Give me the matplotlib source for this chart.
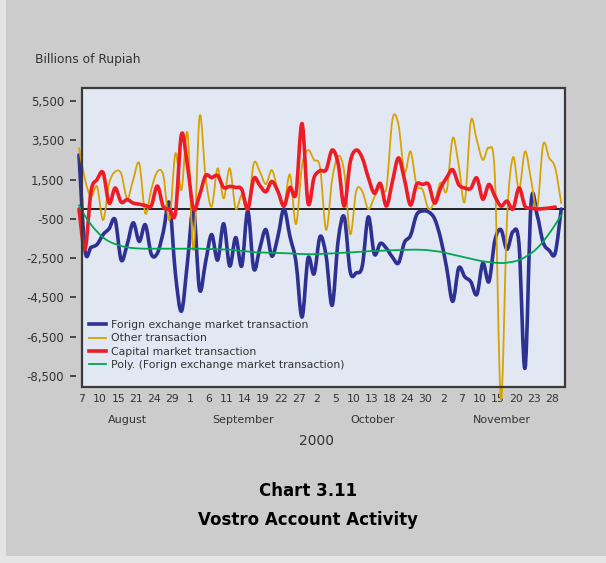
import matplotlib
matplotlib.use('Agg')
import matplotlib.pyplot as plt
from matplotlib.patches import Rectangle, PathPatch
from matplotlib.path import Path
from matplotlib.lines import Line2D
from matplotlib.ticker import FuncFormatter
import matplotlib.transforms as mtransforms
import numpy as np

# day labels under the axis (every third business day), Aug 7 - Nov 30 2000
day_labels = ['7', '10', '15', '21', '24', '29', '1', '6', '11', '14', '19', '22', '27',
              '2', '5', '10', '13', '18', '24', '30', '2', '7', '10', '15', '20', '23', '28']
months = ['August', 'September', 'October', 'November']

# billions of rupiah, one value per business day
forex = [2750, -2100, -1950, -1800, -1300, -1000, -550, -2600, -1800, -700,
         -1650, -800, -2300, -2250, -1150, 300, -3300, -5200, -2700, 0,
         -4100, -2700, -1300, -2600, -750, -2900, -1450, -2900, -100, -3050,
         -2000, -1050, -2400, -1400, 0, -1400, -2700, -5500, -2500, -3300,
         -1400, -2400, -4900, -1600, -400, -3200, -3250, -2900, -400, -2300,
         -1750, -2000, -2450, -2750, -1700, -1350, -300, -100, -150, -500,
         -1500, -3000, -4700, -3000, -3450, -3700, -4350, -2750, -3700, -1600,
         -1050, -2050, -1150, -1800, -8100, 300, -300, -1700, -2100, -2250,
         0]
other = [3100, 1500, 630, 1140, -560, 1300, 1900, 1800, 540, 1500,
         2320, -220, 1000, 1900, 1700, -560, 2830, 970, 3880, -2090,
         4700, 1650, 120, 2070, 540, 2070, 30, 710, 0, 2320,
         1900, 1270, 1975, 950, 200, 1750, -770, 2200, 3000, 2500,
         2100, -1060, 1500, 2700, 1900, -1280, 930, 900, 0, 600,
         1200, 1070, 4550, 4300, 1870, 2930, 1240, 980, 0, 390,
         1350, 930, 3610, 2240, 380, 4470, 3500, 2500, 3120, 1650,
         -9700, -560, 2630, 970, 2930, 1500, 0, 3270, 2600, 2100,
         300]
capital = [0, -2050, 900, 1500, 1850, 300, 1070, 350, 480, 300,
           250, 180, 170, 1170, 100, 0, -200, 3800, 2200, 0,
           700, 1700, 1600, 1700, 1100, 1150, 1100, 1000, 0, 1550,
           1200, 880, 1400, 900, 150, 1100, 800, 4350, 300, 1600,
           1950, 2000, 3000, 2300, 150, 2400, 3000, 2600, 1600, 800,
           1300, 150, 1400, 2600, 1500, 200, 1250, 1250, 1250, 300,
           1070, 1600, 2000, 1240, 1070, 1050, 1580, 500, 1250, 650,
           150, 400, 0, 1070, 140, 50, 0, 20, 50, 100]
poly = [200, -350, -800, -1150, -1450, -1650, -1780, -1880, -1950, -1990,
        -2010, -2020, -2020, -2020, -2020, -2020, -2020, -2020, -2020, -2020,
        -2020, -2030, -2040, -2050, -2060, -2070, -2100, -2130, -2160, -2200,
        -2210, -2220, -2230, -2240, -2250, -2260, -2280, -2290, -2300, -2300,
        -2290, -2270, -2260, -2240, -2220, -2210, -2190, -2170, -2150, -2140,
        -2130, -2110, -2100, -2090, -2080, -2070, -2070, -2080, -2100, -2140,
        -2180, -2250, -2320, -2390, -2460, -2530, -2600, -2660, -2700, -2730,
        -2750, -2730, -2680, -2600, -2450, -2250, -2000, -1650, -1250, -800,
        -300]

series = [
    (forex, 'Forign exchange market transaction', '#2e3192', 2.6),
    (other, 'Other transaction', '#d8a200', 1.3),
    (capital, 'Capital market transaction', '#ee1c25', 2.6),
    (poly, 'Poly. (Forign exchange market transaction)', '#00a651', 1.3),
]


def smooth_path(vals):
    # spreadsheet-style "smoothed line": bezier segments through every point
    pts = np.column_stack([np.arange(len(vals)), vals]).astype(float)
    n = len(pts)
    verts = [pts[0]]
    codes = [Path.MOVETO]
    for i in range(n - 1):
        p0 = pts[max(i - 1, 0)]
        p1 = pts[i]
        p2 = pts[i + 1]
        p3 = pts[min(i + 2, n - 1)]
        verts += [p1 + (p2 - p0) / 6, p2 - (p3 - p1) / 6, p2]
        codes += [Path.CURVE4] * 3
    return Path(verts, codes)


fig = plt.figure(figsize=(6.06, 5.63), dpi=100, facecolor='#e4e4e4')
fig.add_artist(Rectangle((6 / 606, 7 / 563), 600 / 606, 556 / 563,
                         transform=fig.transFigure, facecolor='#cccccc',
                         edgecolor='none', zorder=-10))

ax = fig.add_axes([82 / 606, 1 - 387 / 563, 483 / 606, 299 / 563])
ax.set_facecolor('#e1e8f4')

handles = []
for vals, name, col, lw in series:
    ax.add_patch(PathPatch(smooth_path(vals), fill=False, edgecolor=col, lw=lw,
                           capstyle='round', joinstyle='round', clip_on=False,
                           zorder=3))
    handles.append(Line2D([], [], color=col, lw=lw, label=name))

ax.axhline(0, color='black', lw=1.2, zorder=2)

ax.set_xlim(0.66, 80.63)
ax.set_ylim(-9060, 6160)

# frame drawn by hand so the y ticks can sit a little away from it
for s in ax.spines.values():
    s.set_visible(False)
ax.spines['left'].set_position(('outward', 4))
ax.add_patch(Rectangle((0, 0), 1, 1, transform=ax.transAxes, fill=False,
                       edgecolor='#3a3a3a', lw=1.6, clip_on=False, zorder=5))

ax.set_yticks(np.arange(-8500, 5501, 2000))
ax.yaxis.set_major_formatter(FuncFormatter(lambda v, p: f'{v:,.0f}'))
ax.tick_params(axis='y', length=4, width=1.2, color='#333333', pad=5,
               labelsize=8.5, labelcolor='#333333')

ax.set_xticks(np.arange(len(day_labels)) * 3 + 0.5)
ax.set_xticklabels(day_labels)
ax.tick_params(axis='x', length=0, pad=5, labelsize=7.8, labelcolor='#333333')

trans = mtransforms.blended_transform_factory(ax.transData, fig.transFigure)
month_pos = [8.1, 27.2, 48.7, 70.2]
for m, xm in zip(months, month_pos):
    ax.text(xm, 1 - 420 / 563, m, transform=trans, ha='center', va='center',
            fontsize=8, color='#333333')
fig.text(317 / 606, 1 - 441 / 563, '2000', ha='center', va='center',
         fontsize=10, color='#333333')

fig.text(35 / 606, 1 - 60 / 563, 'Billions of Rupiah', ha='left', va='center',
         fontsize=8.8, color='#333333')

leg = ax.legend(handles=handles, loc='upper left', bbox_to_anchor=(0.0, 0.245),
                frameon=False, fontsize=7.8, handlelength=1.6,
                handletextpad=0.5, labelspacing=0.3, borderaxespad=0.2)
for t in leg.get_texts():
    t.set_color('#333333')

fig.text(308 / 606, 1 - 491 / 563, 'Chart 3.11', ha='center', va='center',
         fontsize=12, fontweight='bold', color='black')
fig.text(308 / 606, 1 - 520 / 563, 'Vostro Account Activity', ha='center',
         va='center', fontsize=12, fontweight='bold', color='black')

fig.savefig('out.png', dpi=100, facecolor=fig.get_facecolor())
